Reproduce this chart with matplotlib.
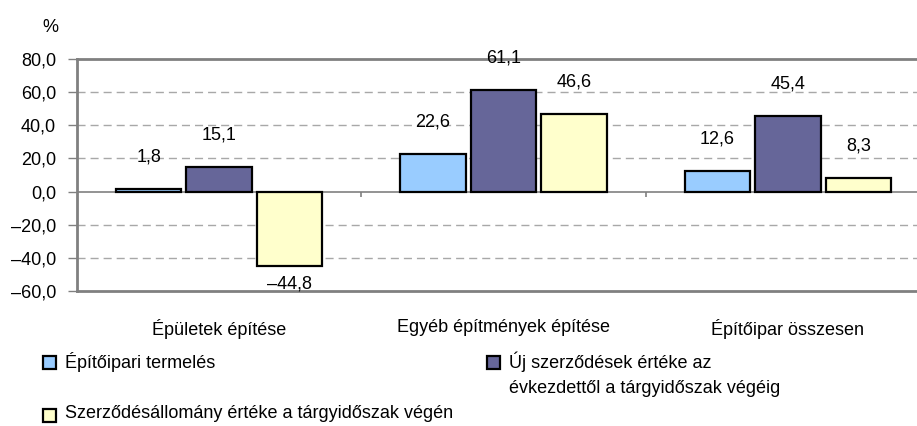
import numpy as np
import matplotlib
matplotlib.use("Agg")
import matplotlib.pyplot as plt
from matplotlib.patches import Rectangle

plt.rcParams['font.family'] = ['Liberation Sans', 'DejaVu Sans']

categories = ["Épületek építése", "Egyéb építmények építése", "Építőipar összesen"]
series_names = ["Építőipari termelés",
                "Új szerződések értéke az\névkezdettől a tárgyidőszak végéig",
                "Szerződésállomány értéke a tárgyidőszak végén"]
termeles = [1.8, 22.6, 12.6]
uj_szerz = [15.1, 61.1, 45.4]
allomany = [-44.8, 46.6, 8.3]
yticks = [-60, -40, -20, 0, 20, 40, 60, 80]

colors = ["#99CCFF", "#666699", "#FFFFCC"]
grey = "#808080"
fs = 13

def fmt(v):
    s = f"{abs(v):.1f}".replace(".", ",")
    return ("–" + s) if v < 0 else s

W, H = 917, 426
fig = plt.figure(figsize=(W/100, H/100), dpi=100)
ax = fig.add_axes([77/W, 1-291/H, (930-77)/W, (291-59)/H])

x = np.arange(len(categories))
w = 0.23
step = 0.248
for i, (vals, c) in enumerate(zip([termeles, uj_szerz, allomany], colors)):
    bars = ax.bar(x + (i-1)*step, vals, w, color=c, edgecolor="black", linewidth=1.6, zorder=3)
    for b, v in zip(bars, vals):
        cx = b.get_x() + b.get_width()/2
        off = 23 if v >= 0 else -13
        ax.annotate(fmt(v), (cx, v), xytext=(0, off), textcoords="offset points",
                    ha="center", va="center", fontsize=fs)

ax.set_xlim(-0.5, 2.5)
ax.set_ylim(-60, 80)
ax.set_yticks(yticks)
ax.set_yticklabels([fmt(v) for v in yticks], fontsize=fs)
ax.tick_params(axis="y", length=6.5, color=grey, width=1, pad=8.5)
ax.set_xticks(x)
ax.set_xticklabels(categories, fontsize=fs)
ax.tick_params(axis="x", length=0, pad=20)

for v in [-40, -20, 20, 40, 60]:
    ax.axhline(v, color="#A8A8A8", linestyle=(0, (5.8, 3.6)), linewidth=1, zorder=1)
ax.axhline(0, color=grey, linewidth=1.2, zorder=2)
ax.vlines([-0.5, 0.5, 1.5], -3.5, 0, color=grey, linewidth=1.2, zorder=2)

for s in ["top", "bottom", "left"]:
    ax.spines[s].set_color(grey)
    ax.spines[s].set_linewidth(2)
ax.spines["right"].set_visible(False)

fig.text(50/W, 1-27/H, "%", fontsize=fs, ha="center", va="center")

# legend, placed by hand
legend_pos = [(43, 362), (487, 362), (43, 415)]
for c, name, (lx, ly) in zip(colors, series_names, legend_pos):
    fig.patches.append(Rectangle((lx/W, 1-(ly+7)/H), 13/W, 13/H, transform=fig.transFigure,
                                 facecolor=c, edgecolor="black", linewidth=1.6))
    fig.text((lx+22)/W, 1-(ly-10)/H, name, fontsize=fs, ha="left", va="top", linespacing=1.55)

fig.savefig("out.png", dpi=100)
